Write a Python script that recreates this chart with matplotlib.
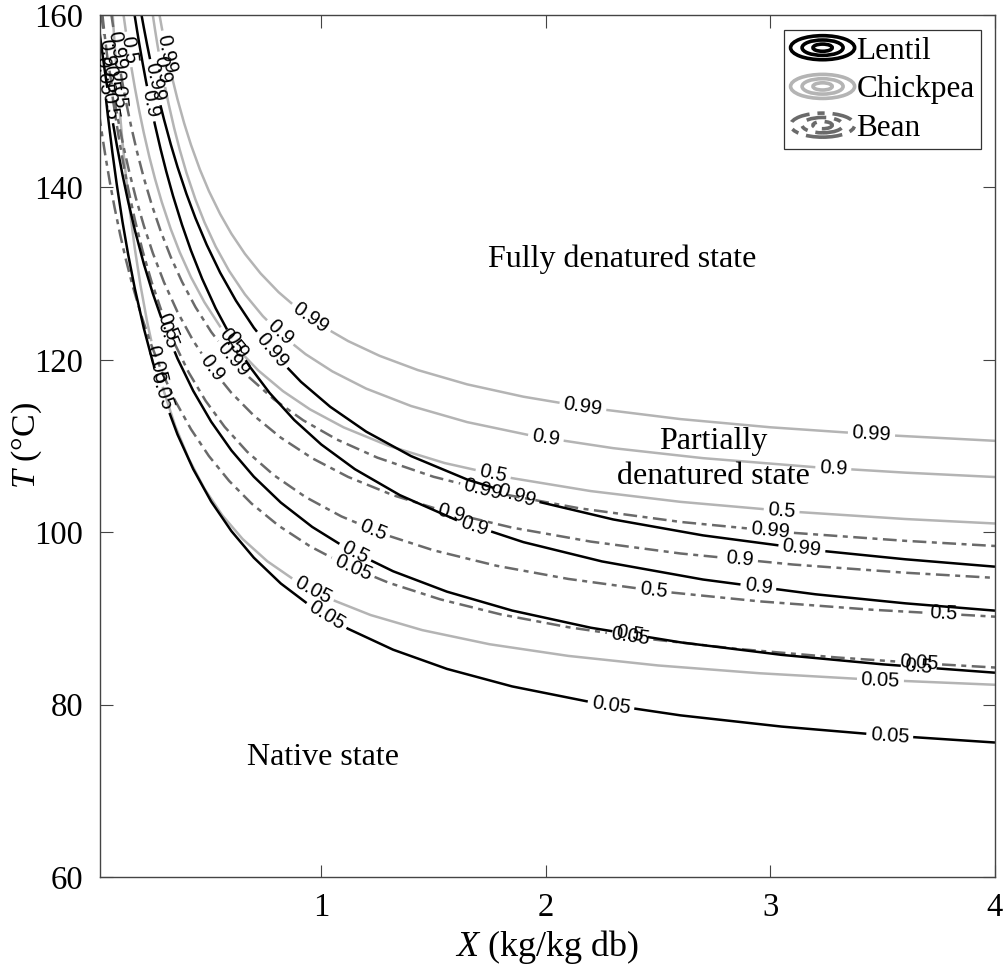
import numpy as np
import matplotlib
matplotlib.use("Agg")
import matplotlib.pyplot as plt
from matplotlib.contour import ContourSet
from matplotlib.patches import Ellipse
from matplotlib.legend_handler import HandlerBase
from matplotlib.lines import Line2D

plt.rcParams['font.family'] = 'Liberation Serif'
plt.rcParams['mathtext.fontset'] = 'custom'
plt.rcParams['mathtext.rm'] = 'Liberation Serif'
plt.rcParams['mathtext.it'] = 'Liberation Serif:italic'

levels = [0.05, 0.5, 0.9, 0.99]
level_fmt = {0.05: '0.05', 0.5: '0.5', 0.9: '0.9', 0.99: '0.99'}
species = ['Lentil', 'Chickpea', 'Bean']

# ---- contour lines: X (kg/kg db), T (degC) ----
# Lentil
lentil_05_x = [0.01, 0.02, 0.035, 0.05, 0.07, 0.09, 0.115, 0.14, 0.17, 0.21, 0.25, 0.30, 0.36, 0.43, 0.51, 0.60, 0.70, 0.82, 0.96, 1.12, 1.32, 1.56, 1.85, 2.2, 2.6, 3.05, 3.5, 4.0]
lentil_05_t = [158.39, 155.64, 151.81, 148.31, 144.08, 140.28, 136.03, 132.27, 128.27, 123.67, 119.73, 115.54, 111.34, 107.32, 103.56, 100.13, 97.04, 94.05, 91.29, 88.79, 86.37, 84.14, 82.11, 80.29, 78.75, 77.45, 76.46, 75.60]
lentil_50_x = [0.01, 0.02, 0.035, 0.05, 0.07, 0.09, 0.115, 0.14, 0.17, 0.21, 0.25, 0.30, 0.36, 0.43, 0.51, 0.60, 0.70, 0.82, 0.96, 1.12, 1.32, 1.56, 1.85, 2.2, 2.6, 3.05, 3.5, 4.0]
lentil_50_t = [158.62, 156.60, 153.77, 151.12, 147.86, 144.88, 141.48, 138.40, 135.07, 131.14, 127.71, 123.97, 120.15, 116.40, 112.82, 109.49, 106.44, 103.44, 100.61, 98.02, 95.47, 93.10, 90.91, 88.92, 87.22, 85.77, 84.67, 83.70]
lentil_90_x = [0.169, 0.18, 0.19, 0.205, 0.22, 0.24, 0.26, 0.285, 0.31, 0.34, 0.38, 0.42, 0.47, 0.53, 0.60, 0.68, 0.77, 0.88, 1.0, 1.15, 1.35, 1.6, 1.9, 2.25, 2.7, 3.2, 3.6, 4.0]
lentil_90_t = [160.01, 158.21, 156.63, 154.39, 152.29, 149.66, 147.23, 144.42, 141.85, 139.03, 135.67, 132.68, 129.39, 125.97, 122.57, 119.27, 116.16, 113.01, 110.18, 107.31, 104.30, 101.43, 98.85, 96.61, 94.51, 92.80, 91.75, 90.90]
lentil_99_x = [0.20, 0.21, 0.225, 0.24, 0.26, 0.28, 0.30, 0.33, 0.36, 0.40, 0.44, 0.49, 0.55, 0.62, 0.70, 0.80, 0.91, 1.04, 1.2, 1.4, 1.65, 1.95, 2.3, 2.7, 3.2, 3.6, 4.0]
lentil_99_t = [159.98, 158.55, 156.52, 154.60, 152.20, 149.96, 147.88, 145.00, 142.38, 139.24, 136.44, 133.35, 130.11, 126.87, 123.72, 120.43, 117.44, 114.55, 111.67, 108.83, 106.11, 103.64, 101.48, 99.63, 97.91, 96.86, 96.00]
# Chickpea
chickpea_05_x = [0.0715, 0.08, 0.09, 0.10, 0.115, 0.13, 0.15, 0.17, 0.195, 0.225, 0.26, 0.30, 0.35, 0.41, 0.48, 0.56, 0.65, 0.76, 0.89, 1.04, 1.22, 1.45, 1.75, 2.1, 2.5, 2.95, 3.45, 4.0]
chickpea_05_t = [160.01, 156.66, 153.04, 149.75, 145.32, 141.41, 136.86, 132.91, 128.68, 124.39, 120.22, 116.30, 112.32, 108.53, 105.05, 101.94, 99.21, 96.63, 94.29, 92.25, 90.39, 88.64, 87.00, 85.65, 84.54, 83.64, 82.90, 82.30]
chickpea_50_x = [0.12, 0.13, 0.14, 0.155, 0.17, 0.19, 0.21, 0.235, 0.26, 0.29, 0.33, 0.37, 0.42, 0.48, 0.55, 0.63, 0.72, 0.83, 0.95, 1.1, 1.3, 1.55, 1.85, 2.2, 2.6, 3.1, 3.6, 4.0]
chickpea_50_t = [159.99, 158.11, 156.35, 153.88, 151.60, 148.83, 146.33, 143.51, 140.99, 138.30, 135.17, 132.48, 129.59, 126.67, 123.85, 121.20, 118.76, 116.36, 114.25, 112.16, 110.02, 108.02, 106.27, 104.77, 103.52, 102.38, 101.53, 101.01]
chickpea_90_x = [0.25, 0.26, 0.27, 0.285, 0.30, 0.32, 0.345, 0.37, 0.40, 0.44, 0.48, 0.53, 0.59, 0.66, 0.74, 0.83, 0.93, 1.05, 1.2, 1.4, 1.65, 1.95, 2.3, 2.7, 3.2, 3.6, 4.0]
chickpea_90_t = [160.02, 158.29, 156.66, 154.38, 152.29, 149.74, 146.90, 144.38, 141.69, 138.60, 135.96, 133.14, 130.31, 127.60, 125.07, 122.75, 120.66, 118.65, 116.66, 114.64, 112.77, 111.13, 109.75, 108.59, 107.54, 106.91, 106.40]
chickpea_99_x = [0.28, 0.29, 0.30, 0.32, 0.34, 0.36, 0.39, 0.42, 0.46, 0.50, 0.55, 0.60, 0.66, 0.73, 0.81, 0.90, 1.0, 1.12, 1.26, 1.43, 1.65, 1.9, 2.2, 2.6, 3.0, 3.5, 4.0]
chickpea_99_t = [160.0, 158.55, 157.18, 154.63, 152.33, 150.23, 147.42, 144.94, 142.06, 139.57, 136.91, 134.63, 132.30, 130.02, 127.85, 125.83, 123.98, 122.17, 120.46, 118.81, 117.15, 115.72, 114.41, 113.12, 112.17, 111.28, 110.60]
# Bean
bean_05_x = [0.01, 0.025, 0.04, 0.06, 0.08, 0.105, 0.13, 0.16, 0.20, 0.24, 0.29, 0.35, 0.42, 0.50, 0.59, 0.69, 0.81, 0.95, 1.11, 1.30, 1.53, 1.80, 2.1, 2.45, 2.85, 3.3, 3.7, 4.0]
bean_05_t = [148.71, 146.0, 143.5, 140.44, 137.65, 134.49, 131.66, 128.61, 125.05, 121.96, 118.63, 115.24, 111.95, 108.83, 105.95, 103.32, 100.76, 98.37, 96.18, 94.14, 92.21, 90.46, 88.98, 87.64, 86.47, 85.46, 84.75, 84.30]
bean_50_x = [0.0258, 0.035, 0.045, 0.06, 0.075, 0.095, 0.115, 0.14, 0.17, 0.205, 0.245, 0.29, 0.345, 0.41, 0.485, 0.57, 0.67, 0.79, 0.93, 1.09, 1.28, 1.5, 1.78, 2.1, 2.5, 2.95, 3.45, 4.0]
bean_50_t = [160.0, 157.85, 155.65, 152.59, 149.79, 146.38, 143.32, 139.89, 136.27, 132.61, 129.01, 125.56, 122.01, 118.53, 115.25, 112.22, 109.34, 106.60, 104.08, 101.83, 99.75, 97.90, 96.11, 94.58, 93.16, 91.98, 91.01, 90.20]
bean_90_x = [0.021, 0.03, 0.04, 0.052, 0.066, 0.082, 0.10, 0.12, 0.145, 0.175, 0.21, 0.25, 0.30, 0.36, 0.43, 0.51, 0.60, 0.70, 0.82, 0.96, 1.12, 1.32, 1.56, 1.85, 2.2, 2.6, 3.1, 3.6, 4.0]
bean_90_t = [160.0, 158.27, 156.45, 154.38, 152.13, 149.73, 147.24, 144.70, 141.83, 138.74, 135.57, 132.40, 128.99, 125.55, 122.21, 119.07, 116.17, 113.53, 110.97, 108.58, 106.41, 104.29, 102.33, 100.53, 98.91, 97.53, 96.25, 95.30, 94.70]
bean_99_x = [0.066, 0.075, 0.085, 0.10, 0.115, 0.135, 0.155, 0.18, 0.21, 0.245, 0.285, 0.33, 0.38, 0.44, 0.51, 0.59, 0.68, 0.79, 0.92, 1.07, 1.25, 1.5, 1.8, 2.15, 2.6, 3.1, 3.6, 4.0]
bean_99_t = [159.99, 158.39, 156.70, 154.32, 152.11, 149.40, 146.92, 144.12, 141.11, 138.02, 134.94, 131.93, 129.06, 126.12, 123.24, 120.50, 117.95, 115.40, 112.98, 110.75, 108.65, 106.43, 104.46, 102.77, 101.19, 99.93, 99.00, 98.40]

# label positions (X, T) as placed in the figure
lentil_label_xy = [(0.03, 153.0), (0.06, 149.5), (0.24, 149.7), (0.26, 152.2),
                   (0.289, 116.4), (0.316, 122.9), (0.62, 121.7), (0.779, 121.1),
                   (1.025, 90.4), (1.15, 97.6), (1.68, 100.7), (1.87, 104.2),
                   (2.29, 79.9), (2.375, 88.1), (2.946, 93.6), (3.14, 98.1),
                   (3.53, 75.9), (3.66, 84.3)]
chickpea_label_xy = [(0.095, 151.4), (0.142, 156.0), (0.29, 153.7), (0.313, 155.5),
                     (0.267, 119.5), (0.6, 122.1), (0.815, 123.1), (0.953, 124.8),
                     (0.962, 93.3), (1.765, 106.7), (2.0, 110.9), (2.165, 114.55),
                     (3.49, 82.85), (3.05, 102.5), (3.28, 107.4), (3.45, 111.35)]
bean_label_xy = [(0.06, 152.6), (0.045, 155.6), (0.09, 155.9),
                 (0.316, 123.8), (0.512, 119.0), (0.606, 120.0),
                 (1.14, 95.8), (1.225, 99.9), (1.58, 102.2), (1.72, 104.9),
                 (2.375, 87.9), (2.48, 93.2), (2.865, 96.9), (3.0, 100.2),
                 (3.66, 84.9), (3.77, 90.5)]

region_text = ['Fully denatured state', 'Partially\ndenatured state', 'Native state']
region_xy = [(2.34, 131.7), (2.745, 108.5), (1.01, 73.9)]

x_ticks = [1, 2, 3, 4]
y_ticks = [60, 80, 100, 120, 140, 160]

# ---- figure ----
fig = plt.figure(figsize=(10.04, 9.67), dpi=100)
ax = fig.add_axes([100 / 1004, 90 / 967, 895 / 1004, 862 / 967])
ax.set_xlim(0.015, 4)
ax.set_ylim(60, 160)

styles = {
    'Lentil': dict(color='black', ls='solid'),
    'Chickpea': dict(color='#b4b4b4', ls='solid'),
    'Bean': dict(color='#6a6a6a', ls=(0, (5.5, 2.2, 2.0, 2.2))),
}
curve_data = {
    'Lentil': [(lentil_05_x, lentil_05_t), (lentil_50_x, lentil_50_t),
               (lentil_90_x, lentil_90_t), (lentil_99_x, lentil_99_t)],
    'Chickpea': [(chickpea_05_x, chickpea_05_t), (chickpea_50_x, chickpea_50_t),
                 (chickpea_90_x, chickpea_90_t), (chickpea_99_x, chickpea_99_t)],
    'Bean': [(bean_05_x, bean_05_t), (bean_50_x, bean_50_t),
             (bean_90_x, bean_90_t), (bean_99_x, bean_99_t)],
}
label_pos = {'Lentil': lentil_label_xy, 'Chickpea': chickpea_label_xy, 'Bean': bean_label_xy}
LW = 1.8

for sp in ['Chickpea', 'Bean', 'Lentil']:
    segs = [[np.column_stack([np.asarray(x, float), np.asarray(t, float)])]
            for x, t in curve_data[sp]]
    cs = ContourSet(ax, levels, segs, colors=[styles[sp]['color']], linewidths=LW)
    cs.set_linestyle(styles[sp]['ls'])
    ax.set_xlim(0.015, 4)
    ax.set_ylim(60, 160)
    with plt.rc_context({'font.family': 'Liberation Sans'}):
        cs.clabel(levels, inline=True, fmt=level_fmt, fontsize=14.5, colors='k',
                  manual=label_pos[sp], inline_spacing=4)

ax.set_xlim(0.015, 4)
ax.set_ylim(60, 160)

for txt, (x, y) in zip(region_text, region_xy):
    ax.text(x, y, txt, ha='center', va='center', fontsize=23, linespacing=1.3)

ax.set_xticks(x_ticks)
ax.set_yticks(y_ticks)
ax.tick_params(direction='in', length=9, width=0.8, top=True, right=True,
               labelsize=23.5, color='#444444')
ax.tick_params(axis='x', pad=11)
ax.tick_params(axis='y', pad=12)
for s in ax.spines.values():
    s.set_color('#444444')
    s.set_linewidth(1.0)
ax.set_xlabel(r'$X$ (kg/kg db)', fontsize=26, labelpad=4)
ax.set_ylabel(r'$T$ (°C)', fontsize=24.5)
ax.yaxis.set_label_coords(-0.063, 0.5)


class RingHandler(HandlerBase):
    def __init__(self, color, ls, lw):
        super().__init__()
        self.color, self.ls, self.lw = color, ls, lw

    def create_artists(self, legend, orig_handle, xdescent, ydescent, width,
                       height, fontsize, trans):
        cx = width / 2 - xdescent
        cy = height / 2 - ydescent
        arts = []
        for f in (1.0, 0.64, 0.3):
            e = Ellipse((cx, cy), width * f, height * 1.05 * f, fill=False,
                        edgecolor=self.color, linewidth=self.lw,
                        linestyle=self.ls, transform=trans)
            arts.append(e)
        return arts


handles = [Line2D([], []) for _ in species]
hmap = {h: RingHandler(styles[sp]['color'], styles[sp]['ls'], 2.6)
        for h, sp in zip(handles, species)}
leg = ax.legend(handles, species, handler_map=hmap, loc='upper right',
                bbox_to_anchor=(981 / 1004, 1 - 30 / 967),
                bbox_transform=fig.transFigure, borderaxespad=0,
                fontsize=22.5, frameon=True, fancybox=False, edgecolor='black',
                handlelength=2.05, handleheight=0.75, handletextpad=0.06,
                labelspacing=0.3, borderpad=0.2)
leg.get_frame().set_linewidth(0.9)

fig.savefig('out.png', dpi=100, facecolor='white')
